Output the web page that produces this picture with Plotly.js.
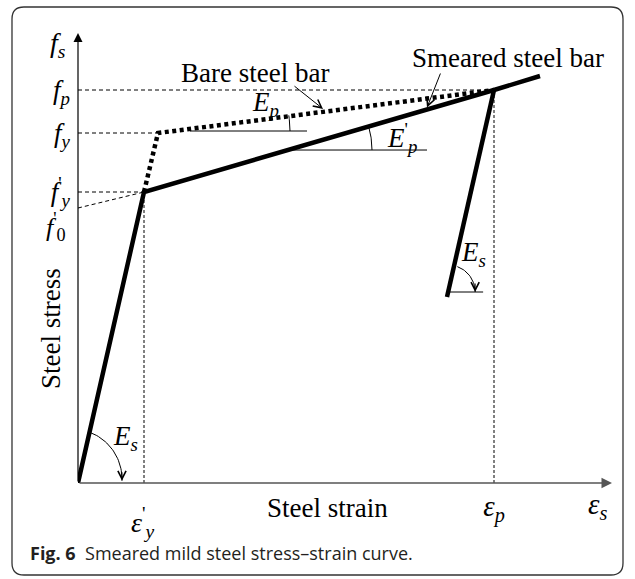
<!DOCTYPE html>
<html><head><meta charset="utf-8">
<script src="https://cdn.plot.ly/plotly-3.0.1.min.js"></script>
<style>html,body{margin:0;padding:0;background:#fff}</style>
</head><body><div id="chart" style="width:635px;height:579px"></div>
<script>
// ---- chart values (strain in arbitrary units, stress in arbitrary units) ----
const smearedStrain = [0, 0.66, 4.16, 4.62];
const smearedStress = [0, 291, 393, 407];
const bareStrain = [0.66, 0.80, 4.16];
const bareStress = [291, 350, 393];
const unloadStrain = [4.16, 3.69];
const unloadStress = [393, 186];
const f0Stress = 275;
const stressTickVals = [393, 350, 291];
const stressTickText = ['<i>f</i><sub><i>p</i></sub>', '<i>f</i><sub><i>y</i></sub>', "<i>f</i><sup>'</sup><sub><i>y</i></sub>"];
const strainTickVals = [4.16];
const strainTickText = ['<i>ε</i><sub><i>p</i></sub>'];

// ---- layout geometry ----
const W = 635, H = 579, L = 78, R = 23, T = 33, B = 96;
const xMax = 5.34, yMax = 450;
const SX = (W - L - R) / xMax;   // px per strain unit
const SY = (H - T - B) / yMax;   // px per stress unit
const serif = 'Liberation Serif, Times New Roman, serif';
const black = '#000';

const epsYp = smearedStrain[1], fYp = smearedStress[1];
const epsP = smearedStrain[2], fP = smearedStress[2];
const epsY = bareStrain[1], fY = bareStress[1];
const slopeSm = (fP - fYp) / (epsP - epsYp);
const slopeBare = (fP - fY) / (epsP - epsY);
const slopeUn = (unloadStress[0] - unloadStress[1]) / (unloadStrain[0] - unloadStrain[1]);

function arc(cx, cy, rPx, a0, a1, n) {
  const xs = [], ys = [];
  for (let i = 0; i <= n; i++) {
    const a = (a0 + (a1 - a0) * i / n) * Math.PI / 180;
    xs.push(cx + rPx * Math.cos(a) / SX);
    ys.push(cy + rPx * Math.sin(a) / SY);
  }
  return {x: xs, y: ys};
}
const thin = {color: black, width: 1};
function seg(x, y, line) { return {type: 'scatter', mode: 'lines', x: x, y: y, line: line, hoverinfo: 'skip', showlegend: false, cliponaxis: false}; }

const traces = [];
// guide dashed lines
const dash = {color: black, width: 1, dash: '4px,3px'};
traces.push(seg([0, epsP], [fP, fP], dash));
traces.push(seg([0, epsY], [fY, fY], dash));
traces.push(seg([0, epsYp], [fYp, fYp], dash));
traces.push(seg([0, epsYp], [f0Stress, fYp], dash));
const vdash = {color: black, width: 1, dash: '3px,2px'};
traces.push(seg([epsYp, epsYp], [0, fYp], vdash));
traces.push(seg([epsP, epsP], [0, fP], vdash));

// reference horizontal lines and angle arcs
const epX0 = epsY + 0.32;
traces.push(seg([epX0, epX0 + 1.17], [fY + 2, fY + 2], thin));
const a1 = arc(epX0, fY + 2, 100, 0, 9, 20);
traces.push(seg(a1.x, a1.y, thin));

const epsRef = 2.10, fRef = fYp + (epsRef - epsYp) * slopeSm;
traces.push(seg([epsRef, epsRef + 1.39], [fRef, fRef], thin));
const angSm = Math.atan(slopeSm * SY / SX) * 180 / Math.PI;
const a2 = arc(epsRef, fRef, 84, 0, angSm, 24);
traces.push(seg(a2.x, a2.y, thin));

const fUnRef = 191, epsUnRef = unloadStrain[0] - (unloadStress[0] - fUnRef) / slopeUn;
traces.push(seg([epsUnRef + 0.01, epsUnRef + 0.35], [fUnRef, fUnRef], thin));
const a3 = arc(epsUnRef, fUnRef, 27, 70, 0, 20);
traces.push(seg(a3.x, a3.y, thin));

const a4 = arc(-0.06, 4, 50, 70, -2, 30);
traces.push(seg(a4.x, a4.y, thin));

// main curves
traces.push(seg(bareStrain, bareStress, {color: black, width: 4.5, dash: '4px,3.5px'}));
traces.push(seg(smearedStrain, smearedStress, {color: black, width: 4.5}));
traces.push(seg(unloadStrain, unloadStress, {color: black, width: 4.5}));

// text placed in paper coordinates (data -> paper) so off-range labels are still drawn
const txt = (x, y, text, size, extra) => Object.assign({x: x / xMax, y: y / yMax, xref: 'paper', yref: 'paper', text: text, showarrow: false,
  font: {family: serif, size: size, color: black}, xanchor: 'center', yanchor: 'middle'}, extra || {});

const ann = [
  // axis arrows
  {x: 0, y: yMax, ax: 0, ay: 0, axref: 'x', ayref: 'y', xref: 'x', yref: 'y', text: '', showarrow: true,
   arrowhead: 2, arrowsize: 1.5, arrowwidth: 1.2, arrowcolor: black},
  {x: xMax, y: 0, ax: 0, ay: 0, axref: 'x', ayref: 'y', xref: 'x', yref: 'y', text: '', showarrow: true,
   arrowhead: 2, arrowsize: 1.5, arrowwidth: 1.4, arrowcolor: '#555'},
  // arc arrowheads
  {x: a3.x[a3.x.length - 1], y: a3.y[a3.y.length - 1], ax: 0, ay: -10, xref: 'x', yref: 'y', text: '', showarrow: true,
   arrowhead: 5, arrowsize: 1.6, arrowwidth: 1, arrowcolor: black},
  {x: a4.x[a4.x.length - 1], y: a4.y[a4.y.length - 1], ax: 0, ay: -10, xref: 'x', yref: 'y', text: '', showarrow: true,
   arrowhead: 5, arrowsize: 1.6, arrowwidth: 1, arrowcolor: black},
  // pointer arrows
  {x: 2.45, y: fY + (2.45 - epsY) * slopeBare + 3, ax: 2.15, ay: 398, axref: 'x', ayref: 'y', xref: 'x', yref: 'y', text: '', showarrow: true,
   arrowhead: 5, arrowsize: 1.6, arrowwidth: 1, arrowcolor: black},
  {x: 3.49, y: fYp + (3.49 - epsYp) * slopeSm + 2, ax: 3.63, ay: 411, axref: 'x', ayref: 'y', xref: 'x', yref: 'y', text: '', showarrow: true,
   arrowhead: 5, arrowsize: 1.6, arrowwidth: 1, arrowcolor: black},
  // texts
  txt(1.77, 410, 'Bare steel bar', 27),
  txt(4.30, 425, 'Smeared steel bar', 27),
  txt(1.87, 379, '<i>E</i><sub><i>p</i></sub>', 27),
  txt(3.24, 345, "<i>E</i><sup>'</sup><sub><i>p</i></sub>", 27),
  txt(0.47, 45, '<i>E</i><sub><i>s</i></sub>', 27),
  txt(3.95, 229, '<i>E</i><sub><i>s</i></sub>', 27),
  txt(-0.2, 439, '<i>f</i><sub><i>s</i></sub>', 28),
  txt(-0.22, 256, "<i>f</i><sup>'</sup><sub>0</sub>", 26),
  txt(epsYp - 0.01, -39, "<i>ε</i><sup>'</sup><sub><i>y</i></sub>", 28),
  txt(5.19, -23, '<i>ε</i><sub><i>s</i></sub>', 29),
  txt(2.49, -25, 'Steel strain', 27),
  txt(-0.27, 154, 'Steel stress', 27, {textangle: -90}),
  {x: (28 - L) / (W - L - R), y: (H - B - 553) / (H - T - B), xref: 'paper', yref: 'paper', xanchor: 'left', yanchor: 'middle', showarrow: false,
   text: '<b>Fig. 6</b>  Smeared mild steel stress–strain curve.', font: {family: 'Open Sans, Noto Sans, sans-serif', size: 18, color: '#231f20'}}
];

// rounded figure frame (pixel -> paper)
const PXx = px => (px - L) / (W - L - R), PXy = py => (H - B - py) / (H - T - B);
const fl = 12, ft = 7, fr = 623, fb = 575, rr = 12;
const p = (x, y) => PXx(x).toFixed(5) + ',' + PXy(y).toFixed(5);
const framePath = 'M' + p(fl + rr, ft) + ' L' + p(fr - rr, ft) + ' Q' + p(fr, ft) + ' ' + p(fr, ft + rr) +
  ' L' + p(fr, fb - rr) + ' Q' + p(fr, fb) + ' ' + p(fr - rr, fb) + ' L' + p(fl + rr, fb) + ' Q' + p(fl, fb) + ' ' + p(fl, fb - rr) +
  ' L' + p(fl, ft + rr) + ' Q' + p(fl, ft) + ' ' + p(fl + rr, ft) + ' Z';

const layout = {
  width: W, height: H, margin: {l: L, r: R, t: T, b: B},
  paper_bgcolor: '#fff', plot_bgcolor: '#fff', showlegend: false,
  xaxis: {range: [0, xMax], showgrid: false, zeroline: false, showline: false, ticks: '',
    tickmode: 'array', tickvals: strainTickVals, ticktext: strainTickText, ticklabelstandoff: 3,
    tickfont: {family: serif, size: 29, color: black}, fixedrange: true},
  yaxis: {range: [0, yMax], showgrid: false, zeroline: false, showline: false, ticks: '',
    tickmode: 'array', tickvals: stressTickVals, ticktext: stressTickText, ticklabelstandoff: 7,
    tickfont: {family: serif, size: 27, color: black}, fixedrange: true},
  shapes: [{type: 'path', xref: 'paper', yref: 'paper', path: framePath, line: {color: '#333', width: 1.3}, fillcolor: 'rgba(0,0,0,0)'}],
  annotations: ann
};
Plotly.newPlot('chart', traces, layout, {staticPlot: true, displayModeBar: false});
</script></body></html>
